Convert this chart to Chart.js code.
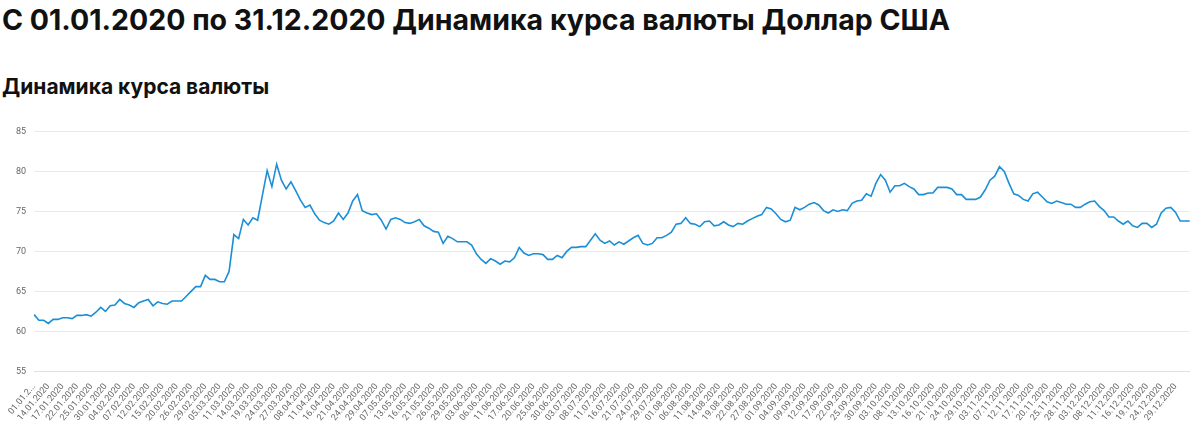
<!DOCTYPE html>
<html><head><meta charset="utf-8">
<script src="https://cdn.jsdelivr.net/npm/chart.js@4"></script>
<style>
body{margin:0;background:#fff;font-family:Inter,Roboto,sans-serif;color:#111;}
h1{position:absolute;left:2px;top:2px;margin:0;font-size:28.5px;font-weight:700;}
h2{position:absolute;left:2px;top:74px;margin:0;font-size:21px;font-weight:700;}
#wrap{position:absolute;left:0;top:118px;width:1200px;height:307px;}
</style></head><body>
<h1>С 01.01.2020 по 31.12.2020 Динамика курса валюты Доллар США</h1>
<h2>Динамика курса валюты</h2>
<div id="wrap"><canvas id="c"></canvas></div>
<script>
const tickLabels=["01.01.2...","14.01.2020","17.01.2020","22.01.2020","25.01.2020","30.01.2020","04.02.2020","07.02.2020","12.02.2020","15.02.2020","20.02.2020","26.02.2020","29.02.2020","05.03.2020","11.03.2020","14.03.2020","19.03.2020","24.03.2020","27.03.2020","08.04.2020","11.04.2020","16.04.2020","21.04.2020","24.04.2020","29.04.2020","07.05.2020","13.05.2020","16.05.2020","21.05.2020","26.05.2020","29.05.2020","03.06.2020","06.06.2020","11.06.2020","17.06.2020","20.06.2020","25.06.2020","30.06.2020","03.07.2020","08.07.2020","11.07.2020","16.07.2020","21.07.2020","24.07.2020","29.07.2020","01.08.2020","06.08.2020","11.08.2020","14.08.2020","19.08.2020","22.08.2020","27.08.2020","01.09.2020","04.09.2020","09.09.2020","12.09.2020","17.09.2020","22.09.2020","25.09.2020","30.09.2020","03.10.2020","08.10.2020","13.10.2020","16.10.2020","21.10.2020","24.10.2020","29.10.2020","03.11.2020","07.11.2020","12.11.2020","17.11.2020","20.11.2020","25.11.2020","28.11.2020","03.12.2020","08.12.2020","11.12.2020","16.12.2020","19.12.2020","24.12.2020","29.12.2020"];
const rates=[62.1,61.4,61.4,61.0,61.5,61.5,61.7,61.7,61.6,62.0,62.0,62.1,61.9,62.4,63.0,62.5,63.2,63.3,64.0,63.5,63.3,63.0,63.6,63.8,64.0,63.2,63.7,63.5,63.4,63.8,63.8,63.8,64.4,65.0,65.6,65.6,67.0,66.5,66.5,66.2,66.2,67.5,72.1,71.6,74.0,73.3,74.2,73.9,77.0,80.1,78.1,80.9,78.9,77.8,78.7,77.6,76.4,75.5,75.8,74.7,73.9,73.6,73.4,73.8,74.8,74.0,74.8,76.3,77.1,75.1,74.8,74.6,74.7,73.9,72.8,74.0,74.2,74.0,73.6,73.5,73.7,74.0,73.2,72.9,72.5,72.4,71.0,71.9,71.6,71.2,71.2,71.2,70.8,69.7,69.0,68.5,69.1,68.8,68.4,68.8,68.7,69.2,70.5,69.8,69.5,69.7,69.7,69.6,69.0,69.0,69.5,69.2,70.0,70.5,70.5,70.6,70.6,71.4,72.2,71.4,71.0,71.3,70.8,71.2,70.9,71.3,71.7,72.0,71.0,70.8,71.0,71.7,71.7,72.0,72.4,73.4,73.5,74.2,73.5,73.4,73.1,73.7,73.8,73.2,73.3,73.7,73.3,73.1,73.5,73.4,73.8,74.1,74.4,74.6,75.5,75.3,74.7,74.0,73.7,73.9,75.5,75.2,75.5,75.9,76.1,75.8,75.1,74.8,75.2,75.0,75.2,75.1,76.0,76.3,76.4,77.2,76.9,78.5,79.6,78.9,77.4,78.2,78.2,78.5,78.1,77.8,77.1,77.1,77.3,77.3,78.0,78.0,78.0,77.8,77.1,77.1,76.5,76.5,76.5,76.8,77.7,78.9,79.4,80.6,80.0,78.5,77.2,77.0,76.5,76.3,77.2,77.4,76.8,76.2,76.0,76.3,76.1,75.9,75.9,75.5,75.5,75.9,76.2,76.3,75.6,75.1,74.3,74.3,73.8,73.4,73.8,73.2,73.0,73.5,73.5,73.0,73.4,74.8,75.4,75.5,74.9,73.8,73.8,73.8];
const labels=rates.map((v,i)=> i%3===0 && tickLabels[i/3]!==undefined ? tickLabels[i/3] : "");
new Chart(document.getElementById('c'),{type:'line',
data:{labels:labels,datasets:[{data:rates,borderColor:'#1a8fd6',borderWidth:1.6,pointRadius:0,tension:0,fill:false}]},
options:{responsive:true,maintainAspectRatio:false,animation:false,
layout:{padding:{top:7,right:10,left:8,bottom:0}},
plugins:{legend:{display:false},tooltip:{enabled:false}},
scales:{
y:{min:55,max:85,ticks:{stepSize:5,color:'#666',font:{size:9,family:'Roboto'},padding:8},grid:{color:'#e9e9e9',drawTicks:false},border:{display:false}},
x:{grid:{display:false},border:{color:'#d6e2ee'},ticks:{autoSkip:false,maxRotation:50,minRotation:50,color:'#666',font:{size:9,family:'Roboto'},padding:2}}
}}});
</script></body></html>
